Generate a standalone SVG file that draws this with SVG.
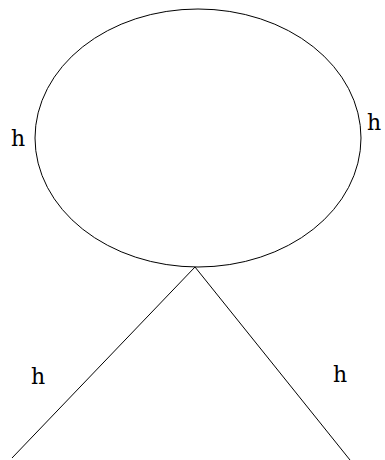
<svg xmlns="http://www.w3.org/2000/svg" width="385" height="460" viewBox="0 0 385 460">
<style>
.ln{fill:none;stroke:#000;stroke-width:1}
.lb{font-family:"DejaVu Serif","Liberation Serif",serif;font-size:22px;fill:#000}
</style>
<rect width="385" height="460" fill="#fff"/>
<g id="circle"><ellipse class="ln" cx="198" cy="138" rx="163" ry="129"/></g>
<g id="connectors">
<line class="ln" x1="195" y1="267" x2="12" y2="458"/>
<line class="ln" x1="195" y1="267" x2="350" y2="460"/>
</g>
<g id="labels">
<text class="lb" x="11" y="146">h</text>
<text class="lb" x="367" y="130">h</text>
<text class="lb" x="31" y="384">h</text>
<text class="lb" x="333" y="382">h</text>
</g>
</svg>
